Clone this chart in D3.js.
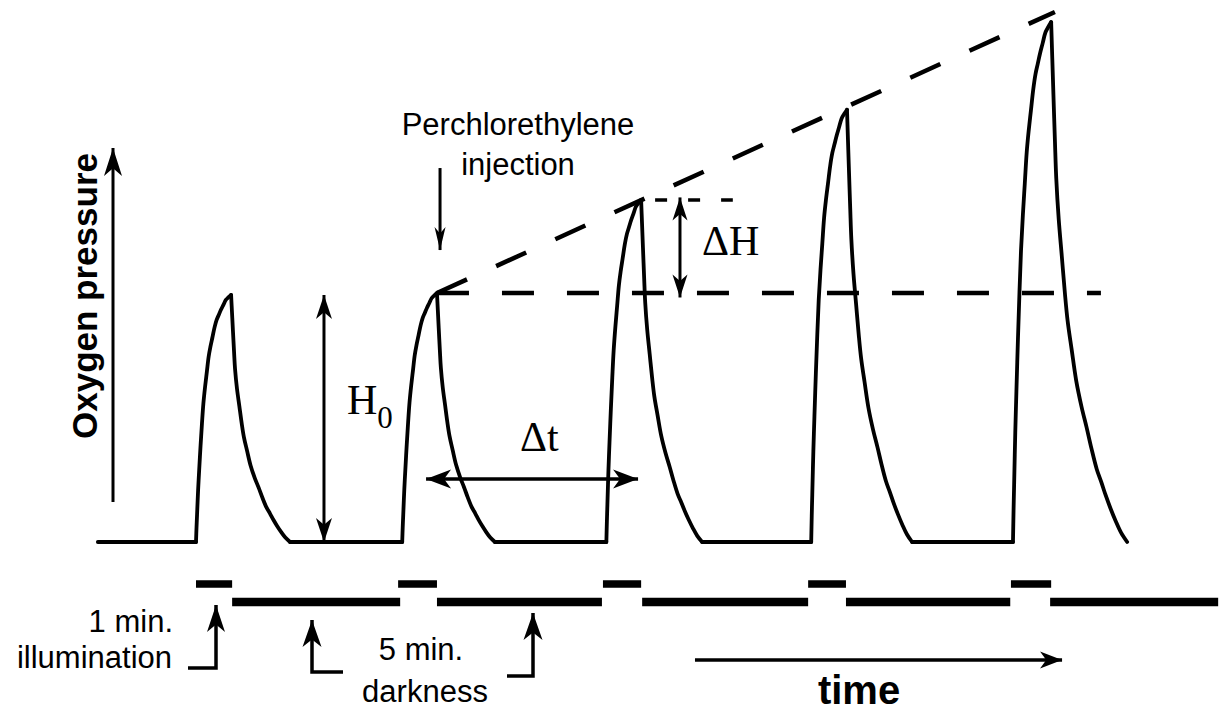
<!DOCTYPE html>
<html>
<head>
<meta charset="utf-8">
<script src="https://cdn.jsdelivr.net/npm/d3@7/dist/d3.min.js"></script>
<style>
  html, body { margin: 0; padding: 0; background: #fff; }
  svg { display: block; }
  .sans { font-family: "Liberation Sans", Arial, Helvetica, sans-serif; }
  .serif { font-family: "Liberation Serif", "Times New Roman", serif; }
</style>
</head>
<body>
<svg id="chart" width="1219" height="711"></svg>
<script>
// ---------------- data (time in minutes, oxygen pressure in units of H0) ----------------
const traceStart = -2.88;                              // start of the recorded baseline
const riseStart  = [0, 6.05, 12.04, 18.05, 23.97];     // light switched on
const peakTime   = [1.03, 7.07, 13.06, 19.1, 25.09];   // light switched off (peak)
const decayEnd   = [2.76, 8.77, 14.85, 21.01, 27.32];  // trace back at baseline
const peakHeight = [1.0, 1.008, 1.385, 1.75, 2.105];   // peak oxygen pressure

const riseShape  = [[0,0],[0.015,0.06],[0.03,0.11],[0.06,0.21],[0.09,0.29],[0.13,0.39],
                    [0.17,0.48],[0.21,0.56],[0.26,0.63],[0.31,0.69],[0.36,0.75],[0.41,0.79],
                    [0.47,0.83],[0.53,0.87],[0.59,0.9],[0.65,0.92],[0.71,0.94],[0.78,0.96],
                    [0.85,0.98],[0.92,0.99],[1,1]];
const decayShape = [[0,1],[0.015,0.93],[0.03,0.86],[0.05,0.77],[0.067,0.70],[0.1,0.62],
                    [0.14,0.55],[0.18,0.48],[0.217,0.425],[0.27,0.37],[0.33,0.31],[0.4,0.26],
                    [0.467,0.22],[0.53,0.18],[0.6,0.14],[0.66,0.115],[0.717,0.09],[0.78,0.065],
                    [0.85,0.04],[0.92,0.018],[1,0]];

// illumination (1 min.) and darkness (5 min.) periods
const lightPeriods = [[0,1.06],[5.93,7.07],[11.94,13.06],[17.96,19.07],[23.91,25.09]];
const darkPeriods  = [[1.06,5.99],[7.07,11.91],[13.09,17.96],[19.07,23.89],[25.06,29.99]];

// reference lines
const h0Line     = [[7.07,1.008],[26.55,1.008]];
const trendLine  = [[7.07,1.008],[25.2,2.146]];
const dHLine     = [[13.47,1.385],[15.75,1.385]];

// ---------------- scales ----------------
const svg = d3.select("#chart");
const x = d3.scaleLinear().domain([0, 24]).range([196, 1014]);
const y = d3.scaleLinear().domain([0, 1]).range([542, 295]);
const row = d3.scalePoint().domain(["light", "dark"]).range([584, 602]);

const line = d3.line().x(d => x(d[0])).y(d => y(d[1]));
const curve = d3.line().x(d => x(d[0])).y(d => y(d[1])).curve(d3.curveCatmullRom.alpha(0.5));

const g = svg.append("g");

// ---------------- trace ----------------
const traceStyle = s => s.attr("fill", "none").attr("stroke", "#000")
  .attr("stroke-width", 3.8).attr("stroke-linecap", "round").attr("stroke-linejoin", "round");

riseStart.forEach((t0, i) => {
  const prevEnd = i === 0 ? traceStart : decayEnd[i - 1];
  // baseline
  g.append("path").attr("d", line([[prevEnd, 0], [t0, 0]])).call(traceStyle);
  // rise
  const rise = riseShape.map(([u, f]) => [t0 + u * (peakTime[i] - t0), f * peakHeight[i]]);
  g.append("path").attr("d", curve(rise)).call(traceStyle);
  // decay
  const decay = decayShape.map(([u, f]) => [peakTime[i] + u * (decayEnd[i] - peakTime[i]), f * peakHeight[i]]);
  g.append("path").attr("d", curve(decay)).call(traceStyle);
});

// ---------------- dashed reference lines ----------------
g.append("path").attr("d", line(h0Line)).attr("fill", "none").attr("stroke", "#000")
  .attr("stroke-width", 4.3).attr("stroke-dasharray", "32,33");
g.append("path").attr("d", line(trendLine)).attr("fill", "none").attr("stroke", "#000")
  .attr("stroke-width", 4.5).attr("stroke-dasharray", "33,32");
g.append("path").attr("d", line(dHLine)).attr("fill", "none").attr("stroke", "#000")
  .attr("stroke-width", 3.5).attr("stroke-dasharray", "12,21");

// ---------------- light / dark bars ----------------
g.selectAll("rect.light").data(lightPeriods).join("rect").attr("class", "light")
  .attr("x", d => x(d[0])).attr("width", d => x(d[1]) - x(d[0]))
  .attr("y", row("light") - 3.75).attr("height", 7.5).attr("fill", "#000");
g.selectAll("rect.dark").data(darkPeriods).join("rect").attr("class", "dark")
  .attr("x", d => x(d[0])).attr("width", d => x(d[1]) - x(d[0]))
  .attr("y", row("dark") - 4.25).attr("height", 8.5).attr("fill", "#000");

// ---------------- arrows ----------------
function head(px, py, angle, L, W) {
  const n = 0.72 * L;
  const pts = [[0, 0], [-L, -W / 2], [-n, 0], [-L, W / 2]];
  const c = Math.cos(angle), s = Math.sin(angle);
  const p = pts.map(([a, b]) => [px + a * c - b * s, py + a * s + b * c]);
  g.append("path").attr("d", "M" + p.map(q => q.join(",")).join("L") + "Z").attr("fill", "#000");
}
function arrow(pts, opt) {
  const sw = opt.sw || 3, L = opt.L || 24, W = opt.W || 16;
  g.append("path").attr("d", d3.line()(pts)).attr("fill", "none").attr("stroke", "#000")
    .attr("stroke-width", sw).attr("stroke-linejoin", "miter");
  const a = pts[pts.length - 1], b = pts[pts.length - 2];
  head(a[0], a[1], Math.atan2(a[1] - b[1], a[0] - b[0]), L, W);
  if (opt.both) {
    const c0 = pts[0], c1 = pts[1];
    head(c0[0], c0[1], Math.atan2(c0[1] - c1[1], c0[0] - c1[0]), L, W);
  }
}
const P = (t, v) => [x(t), y(v)];

// y axis arrow
arrow([P(-2.435, 0.162), P(-2.435, 1.595)], { sw: 3, L: 28, W: 18 });
// H0 double arrow
arrow([P(3.755, 0.0), P(3.755, 1.0)], { both: true, sw: 3, L: 24, W: 16 });
// delta H double arrow
arrow([P(14.2, 0.99), P(14.2, 1.395)], { both: true, sw: 3, L: 23, W: 15 });
// delta t double arrow
arrow([P(6.75, 0.255), P(12.97, 0.255)], { both: true, sw: 3.5, L: 25, W: 19 });
// injection arrow
arrow([P(7.16, 1.514), P(7.16, 1.182)], { sw: 3, L: 23, W: 11 });
// time arrow
arrow([P(14.64, -0.478), P(25.41, -0.478)], { sw: 3.5, L: 22, W: 17 });
// bottom L-shaped pointer arrows
arrow([[188, 668], [216, 668], [216, 605]], { sw: 3.5, L: 27, W: 18 });
arrow([[343, 672], [312, 672], [312, 620]], { sw: 3.5, L: 27, W: 19 });
arrow([[507, 676], [533, 676], [533, 613]], { sw: 3.5, L: 27, W: 19 });

// ---------------- text ----------------
const txt = (cls, s, tx, ty, size, anchor, weight) =>
  g.append("text").attr("class", cls).attr("x", tx).attr("y", ty)
   .attr("font-size", size).attr("text-anchor", anchor || "start")
   .attr("font-weight", weight || "normal").attr("fill", "#000").text(s);

g.append("text").attr("class", "sans").attr("transform", "translate(97,296) rotate(-90)")
  .attr("font-size", 35).attr("font-weight", "bold").attr("text-anchor", "middle").text("Oxygen pressure");

txt("sans", "Perchlorethylene", 518, 135, 31, "middle");
txt("sans", "injection", 518, 175, 31, "middle");
txt("sans", "1 min.", 173, 632, 31, "end");
txt("sans", "illumination", 172, 668, 31, "end");
txt("sans", "5 min.", 421, 660, 31, "middle");
txt("sans", "darkness", 425, 702, 31, "middle");
txt("sans", "time", 859, 704, 40, "middle", "bold");

const h0 = txt("serif", "H", 347, 414, 42, "start");
h0.append("tspan").attr("font-size", 31).attr("dy", 14).text("0");
txt("serif", "\u0394H", 702, 255, 42, "start");
txt("serif", "\u0394t", 520, 451, 42, "start");
</script>
</body>
</html>
